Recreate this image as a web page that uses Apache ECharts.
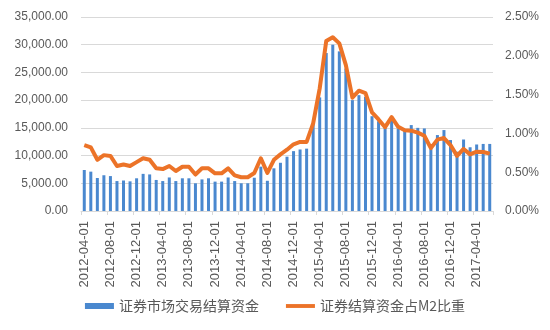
<!DOCTYPE html>
<html>
<head>
<meta charset="utf-8">
<script src="https://cdn.jsdelivr.net/npm/echarts@6/dist/echarts.min.js"></script>
<style>
  html, body { margin: 0; padding: 0; background: #fff; }
  #chart { width: 550px; height: 330px; }
</style>
</head>
<body>
<div id="chart"></div>
<script>
// Monthly observations, 2012-04 through 2017-06
const months = [
  '2012-04-01','2012-05-01','2012-06-01','2012-07-01','2012-08-01','2012-09-01','2012-10-01','2012-11-01','2012-12-01',
  '2013-01-01','2013-02-01','2013-03-01','2013-04-01','2013-05-01','2013-06-01','2013-07-01','2013-08-01','2013-09-01',
  '2013-10-01','2013-11-01','2013-12-01',
  '2014-01-01','2014-02-01','2014-03-01','2014-04-01','2014-05-01','2014-06-01','2014-07-01','2014-08-01','2014-09-01',
  '2014-10-01','2014-11-01','2014-12-01',
  '2015-01-01','2015-02-01','2015-03-01','2015-04-01','2015-05-01','2015-06-01','2015-07-01','2015-08-01','2015-09-01',
  '2015-10-01','2015-11-01','2015-12-01',
  '2016-01-01','2016-02-01','2016-03-01','2016-04-01','2016-05-01','2016-06-01','2016-07-01','2016-08-01','2016-09-01',
  '2016-10-01','2016-11-01','2016-12-01',
  '2017-01-01','2017-02-01','2017-03-01','2017-04-01','2017-05-01','2017-06-01'
];

// 证券市场交易结算资金 (亿元)
const settlementFunds = [
  7400, 7100, 5950, 6450, 6300, 5400, 5500, 5350, 5900,
  6700, 6600, 5600, 5400, 6050, 5400, 5900, 5900, 5000,
  5700, 5900, 5300,
  5300, 6050, 5400, 5000, 5000, 6000, 8000, 5450, 7700,
  8700, 9800, 10800,
  11100, 11250, 15800, 20500, 28500, 30000, 28800, 25700, 20000,
  20900, 20600, 17100,
  16200, 15000, 16600, 14900, 14700, 15500, 15000, 14900, 11300,
  13700, 14600, 12800,
  10700, 12900, 11500, 12000, 12100, 12100
];

// 证券结算资金占M2比重 (%)
const shareOfM2 = [
  0.85, 0.82, 0.66, 0.72, 0.71, 0.58, 0.60, 0.58, 0.63,
  0.68, 0.66, 0.55, 0.54, 0.58, 0.515, 0.57, 0.57, 0.47,
  0.55, 0.55, 0.485,
  0.485, 0.55, 0.46, 0.435, 0.435, 0.49, 0.68, 0.49, 0.66,
  0.73, 0.79, 0.86,
  0.89, 0.89, 1.13, 1.58, 2.19, 2.24, 2.16, 1.88, 1.46,
  1.55, 1.52, 1.27,
  1.18, 1.08, 1.21, 1.085, 1.04, 1.035, 1.01, 0.97, 0.81,
  0.92, 0.94, 0.85,
  0.71, 0.80, 0.73, 0.765, 0.76, 0.74
];

const seriesNames = ['证券市场交易结算资金', '证券结算资金占M2比重'];

const textColor = '#595959';
const gridColor = '#d9d9d9';
const barColor = '#4a88cf';
const lineColor = '#ec7328';
const baseFont = 'Liberation Sans, Arial, sans-serif';

const chart = echarts.init(document.getElementById('chart'), null, { renderer: 'canvas' });

chart.setOption({
  animation: false,
  backgroundColor: '#ffffff',
  grid: { left: 81, right: 57, top: 17, bottom: 119, containLabel: false },
  legend: {
    bottom: 12,
    left: 'center',
    itemGap: 27,
    itemWidth: 29,
    itemHeight: 6,
    textStyle: { color: textColor, fontSize: 14, fontFamily: 'Noto Sans CJK SC, sans-serif' },
    data: [
      { name: seriesNames[0], icon: 'rect' },
      { name: seriesNames[1], icon: 'path://M0,0H30V4H0Z' }
    ]
  },
  xAxis: {
    type: 'category',
    data: months,
    boundaryGap: true,
    axisLine: { lineStyle: { color: gridColor, width: 1 } },
    axisTick: { show: true, interval: 3, length: 4, lineStyle: { color: gridColor } },
    axisLabel: {
      interval: 3,
      rotate: 90,
      margin: 10,
      color: textColor,
      fontSize: 13,
      fontFamily: baseFont
    },
    splitLine: { show: false }
  },
  yAxis: [
    {
      type: 'value',
      min: 0,
      max: 35000,
      interval: 5000,
      axisLine: { show: false },
      axisTick: { show: false },
      axisLabel: {
        margin: 13,
        color: textColor,
        fontSize: 12,
        fontFamily: baseFont,
        formatter: v => v.toLocaleString('en-US', { minimumFractionDigits: 2, maximumFractionDigits: 2 })
      },
      splitLine: { lineStyle: { color: gridColor, width: 1 } }
    },
    {
      type: 'value',
      min: 0,
      max: 2.5,
      interval: 0.5,
      axisLine: { show: false },
      axisTick: { show: false },
      axisLabel: {
        margin: 12,
        color: textColor,
        fontSize: 12,
        fontFamily: baseFont,
        formatter: v => v.toFixed(2) + '%'
      },
      splitLine: { show: false }
    }
  ],
  series: [
    {
      name: seriesNames[0],
      type: 'bar',
      data: settlementFunds,
      yAxisIndex: 0,
      barWidth: 3,
      itemStyle: { color: barColor }
    },
    {
      name: seriesNames[1],
      type: 'line',
      data: shareOfM2,
      yAxisIndex: 1,
      symbol: 'none',
      lineStyle: { color: lineColor, width: 4, join: 'round' },
      itemStyle: { color: lineColor }
    }
  ]
});
</script>
</body>
</html>
